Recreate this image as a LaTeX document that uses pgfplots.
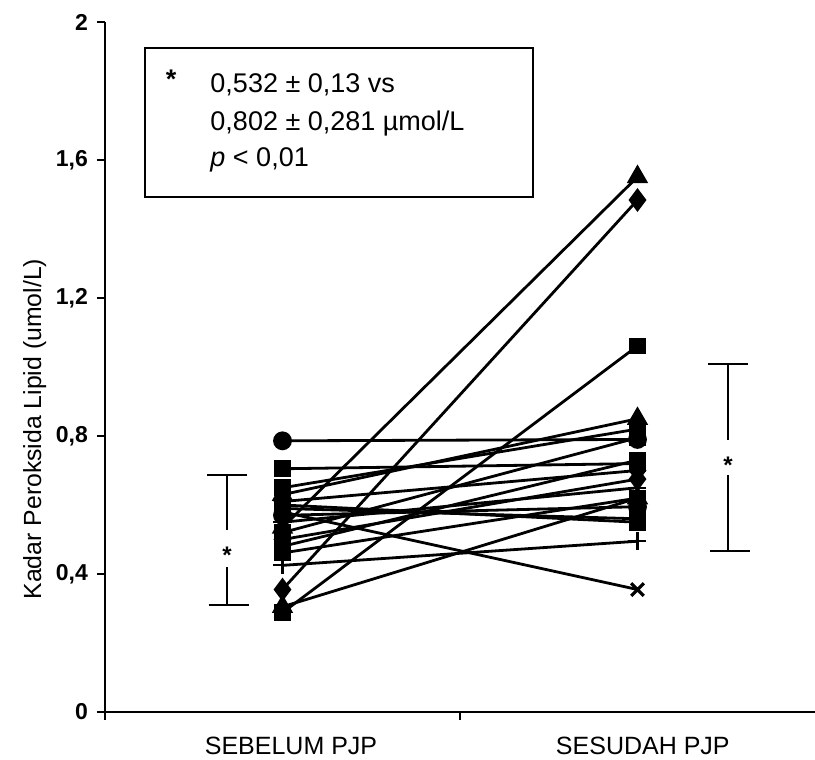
\documentclass[border=0pt]{standalone}
\usepackage{fontspec}
\setmainfont{Liberation Sans}
\usepackage{pgfplots}
\pgfplotsset{compat=1.18}

\tikzset{
  pair/.style={black, line width=1.4pt, mark options={solid, fill=black}},
  sq/.style={pair, mark=square*, mark size=3.5pt},
  ci/.style={pair, mark=*, mark size=4pt},
  di/.style={pair, mark=diamond*, mark size=4.8pt},
  tr/.style={pair, mark=triangle*, mark size=4.8pt},
  pl/.style={pair, mark=+, mark size=4.5pt, mark options={line width=1.1pt}},
  cr/.style={pair, mark=x, mark size=4.5pt, mark options={line width=1.6pt}},
  sdbar/.style={black, line width=1.1pt, mark=none},
}

\begin{document}
\begin{tikzpicture}
\begin{axis}[
    scale only axis,
    width=355pt, height=345pt,
    xmin=0, xmax=2, ymin=0, ymax=2,
    axis lines=left,
    axis line style={-, line width=1pt},
    xtick={0,1}, xticklabels={},
    ytick={0,0.4,0.8,1.2,1.6,2},
    yticklabels={0,{0,4},{0,8},{1,2},{1,6},2},
    tick align=outside,
    major tick length=4pt,
    tick style={black, line width=1pt},
    yticklabel style={font=\fontsize{11.5}{13}\selectfont\bfseries, xshift=-1pt},
    ylabel={Kadar Peroksida Lipid (umol/L)},
    every axis y label/.style={at={(axis description cs:-0.099,0.41)}, rotate=90, anchor=center,
        font=\fontsize{12.4}{14}\selectfont},
    clip=false,
]

% pasien: sebelum (x=0.5) -> sesudah (x=1.5)
\addplot[ci] coordinates {(0.5,0.786) (1.5,0.790)};
\addplot[sq] coordinates {(0.5,0.705) (1.5,0.720)};
\addplot[sq] coordinates {(0.5,0.650) (1.5,0.820)};
\addplot[tr] coordinates {(0.5,0.630) (1.5,0.850)};
\addplot[di] coordinates {(0.5,0.610) (1.5,0.700)};
\addplot[sq] coordinates {(0.5,0.600) (1.5,0.550)};
\addplot[sq] coordinates {(0.5,0.590) (1.5,0.560)};
\addplot[cr] coordinates {(0.5,0.580) (1.5,0.355)};
\addplot[ci] coordinates {(0.5,0.570) (1.5,0.595)};
\addplot[pl] coordinates {(0.5,0.550) (1.5,0.650)};
\addplot[tr] coordinates {(0.5,0.535) (1.5,1.551)};
\addplot[di] coordinates {(0.5,0.500) (1.5,0.675)};
\addplot[sq] coordinates {(0.5,0.480) (1.5,0.730)};
\addplot[sq] coordinates {(0.5,0.461) (1.5,0.620)};
\addplot[pl] coordinates {(0.5,0.425) (1.5,0.495)};
\addplot[di] coordinates {(0.5,0.355) (1.5,1.484)};
\addplot[tr] coordinates {(0.5,0.305) (1.5,0.620)};
\addplot[sq] coordinates {(0.5,0.288) (1.5,1.061)};
\addplot[sq] coordinates {(0.5,0.520) (1.5,0.795)};

% rerata +- SD (garis terputus di tanda *)
\addplot[sdbar] coordinates {(0.344,0.687) (0.344,0.528)};
\addplot[sdbar] coordinates {(0.344,0.420) (0.344,0.310)};
\addplot[sdbar] coordinates {(0.287,0.687) (0.401,0.687)};
\addplot[sdbar] coordinates {(0.292,0.310) (0.406,0.310)};
\addplot[sdbar] coordinates {(1.755,1.009) (1.755,0.788)};
\addplot[sdbar] coordinates {(1.755,0.687) (1.755,0.467)};
\addplot[sdbar] coordinates {(1.700,1.009) (1.812,1.009)};
\addplot[sdbar] coordinates {(1.705,0.467) (1.817,0.467)};
\node[font=\fontsize{12}{14}\selectfont\bfseries] at (axis cs:0.344,0.455) {*};
\node[font=\fontsize{12}{14}\selectfont\bfseries] at (axis cs:1.755,0.716) {*};

% kotak keterangan
\draw[line width=1.1pt] (axis cs:0.113,1.493) rectangle (axis cs:1.206,1.925);
\node[font=\fontsize{13.5}{16}\selectfont\bfseries] at (axis cs:0.186,1.835) {*};
\node[anchor=base west, inner sep=0pt, font=\fontsize{13.5}{16}\selectfont] at (axis cs:0.296,1.797) {0,532 ± 0,13 vs};
\node[anchor=base west, inner sep=0pt, font=\fontsize{13.5}{16}\selectfont] at (axis cs:0.296,1.686) {0,802 ± 0,281 µmol/L};
\node[anchor=base west, inner sep=0pt, font=\fontsize{13.5}{16}\selectfont] at (axis cs:0.296,1.580) {\textit{p} < 0,01};

% label kategori
\node[font=\fontsize{12.5}{15}\selectfont, yshift=-17pt] at (axis cs:0.524,0) {SEBELUM PJP};
\node[font=\fontsize{12.5}{15}\selectfont, yshift=-17pt] at (axis cs:1.515,0) {SESUDAH PJP};

\coordinate (SW) at (axis cs:0,0);
\coordinate (NE) at (axis cs:2,2);
\end{axis}
\pgfresetboundingbox
\path[use as bounding box] ([shift={(-52.5pt,-24pt)}]SW) rectangle ([shift={(0pt,11pt)}]NE);
\end{tikzpicture}
\end{document}
